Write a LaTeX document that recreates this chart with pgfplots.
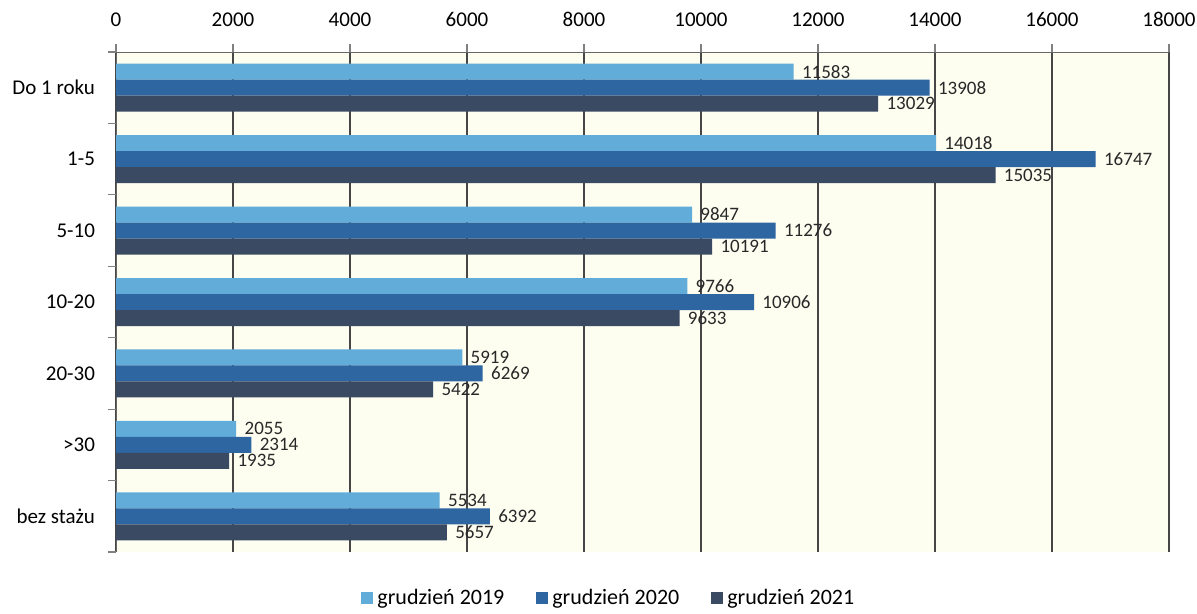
\documentclass[border=0pt]{standalone}
\usepackage{fontspec}
\setmainfont{Carlito}
\usepackage{pgfplots}
\pgfplotsset{compat=1.18}

\definecolor{c19}{RGB}{98,172,218}
\definecolor{c20}{RGB}{46,102,162}
\definecolor{c21}{RGB}{58,74,98}
\definecolor{bg}{RGB}{253,253,240}
\definecolor{gridc}{RGB}{70,70,70}
\definecolor{lbl}{RGB}{40,40,40}

\begin{document}
\begin{tikzpicture}
  \begin{axis}[
      scale only axis,
      width=526.5pt,
      height=250pt,
      xbar,
      bar width=8pt,
      xmin=0, xmax=18000,
      ymin=-0.5, ymax=6.5,
      xtick={0,2000,...,18000},
      scaled x ticks=false,
      ytick={0,...,6},
      yticklabels={bez stażu,>30,20-30,10-20,5-10,1-5,Do 1 roku},
      minor ytick={-0.5,0.5,...,6.5},
      axis x line=top,
      axis y line=left,
      axis line style={-,draw=gray!80!black},
      axis background/.style={fill=bg},
      xmajorgrids,
      major grid style={gridc, line width=0.6pt},
      major x tick style={gray, line width=0.6pt},
      major y tick style={draw=none},
      minor y tick style={gray, line width=0.6pt},
      tick align=outside,
      major tick length=4pt,
      minor tick length=4pt,
      xticklabel style={font=\fontsize{10.5}{12}\selectfont, yshift=5pt},
      yticklabel style={font=\fontsize{10.5}{12}\selectfont, xshift=-3pt},
      /pgf/number format/1000 sep={},
      /pgf/number format/assume math mode=true,
      nodes near coords,
      nodes near coords style={font=\fontsize{9.5}{10}\selectfont, text=lbl, anchor=west, inner sep=4pt},
      legend style={
        at={(0.469,-0.092)}, anchor=center,
        legend columns=3, draw=none, fill=none,
        font=\fontsize{11}{12}\selectfont,
        /tikz/every even column/.append style={column sep=14pt},
      },
      legend image code/.code={\fill[#1] (0pt,-3pt) rectangle (6pt,3pt);},
    ]
    \addplot[fill=c19, draw=none, bar shift=8pt] coordinates {
      (11583,6) (14018,5) (9847,4) (9766,3) (5919,2) (2055,1) (5534,0)
    };
    \addlegendentry{grudzień 2019}
    \addplot[fill=c20, draw=none, bar shift=0pt] coordinates {
      (13908,6) (16747,5) (11276,4) (10906,3) (6269,2) (2314,1) (6392,0)
    };
    \addlegendentry{grudzień 2020}
    \addplot[fill=c21, draw=none, bar shift=-8pt] coordinates {
      (13029,6) (15035,5) (10191,4) (9633,3) (5422,2) (1935,1) (5657,0)
    };
    \addlegendentry{grudzień 2021}
    \coordinate (o) at (rel axis cs:0,0);
  \end{axis}
  \pgfresetboundingbox
  \path (o) ++(-58pt,-31pt) rectangle ++(598.5pt,307pt);
\end{tikzpicture}
\end{document}
